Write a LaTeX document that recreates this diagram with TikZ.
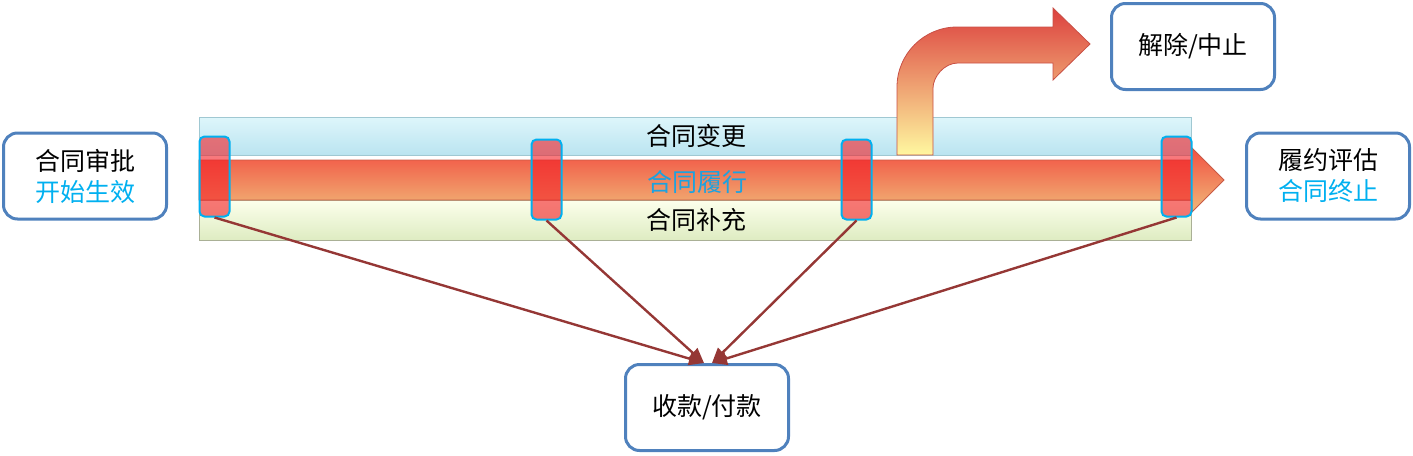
\documentclass[tikz,border=0pt]{standalone}
\usepackage{fontspec}
\setmainfont{Noto Sans CJK SC}
\usetikzlibrary{arrows.meta}
\definecolor{boxblue}{HTML}{4F81BD}
\definecolor{textblue}{HTML}{00B0F0}
\definecolor{linkred}{HTML}{953735}
\tikzset{
  stage/.style={draw=boxblue,line width=1.5pt,rounded corners=7pt,fill=white,
    minimum width=81.5pt,minimum height=43pt,align=center,
    font=\fontsize{12.5}{15.5}\selectfont},
  marker/.style={draw=textblue,line width=1pt,rounded corners=2.5pt,fill={rgb,255:red,243;green,30;blue,37},
    fill opacity=0.6,minimum width=15pt,minimum height=40pt,inner sep=0pt},
  link/.style={draw=linkred,line width=1.2pt,-{Triangle[length=7.5pt,width=6.5pt]}},
  bandtext/.style={font=\fontsize{12.5}{15}\selectfont}
}
\begin{document}
\begin{tikzpicture}[x=0.5pt,y=-0.5pt]
  \useasboundingbox (0,0) rectangle (1413,455);
  %% bands
  \shadedraw[draw={rgb,255:red,160;green,200;blue,210},top color={rgb,255:red,222;green,246;blue,251},bottom color={rgb,255:red,186;green,228;blue,240}]
    (199,117) rectangle (1191,155);
  \shadedraw[draw={rgb,255:red,170;green,176;blue,150},top color={rgb,255:red,252;green,255;blue,236},bottom color={rgb,255:red,222;green,236;blue,194}]
    (199,200) rectangle (1191,240);
  %% main arrow
  \shadedraw[draw={rgb,255:red,200;green,90;blue,70},line width=0.4pt,
    top color={rgb,255:red,242;green,80;blue,66},middle color={rgb,255:red,232;green,118;blue,90},bottom color={rgb,255:red,240;green,184;blue,120}]
    (199,160) -- (1192,160) -- (1192,148) -- (1224,180) -- (1192,212) -- (1192,200) -- (199,200) -- cycle;
  %% bent arrow
  \shadedraw[draw={rgb,255:red,200;green,80;blue,70},line width=0.4pt,
    top color={rgb,255:red,220;green,64;blue,62},middle color={rgb,255:red,242;green,134;blue,96},bottom color={rgb,255:red,255;green,248;blue,160}]
    (897,155) -- (897,87) .. controls (897,54) and (924,27) .. (957,27) -- (1053,27) -- (1053,8)
    -- (1090,44) -- (1053,80) -- (1053,63) -- (958,63) .. controls (944,63) and (933,77) .. (933,88)
    -- (933,155) -- cycle;
  %% labels
  \node[bandtext] (change) at (696,136) {合同变更};
  \node[bandtext,text={rgb,255:red,28;green,162;blue,224}] (perform) at (697,182) {合同履行};
  \node[bandtext] (supply) at (696,220) {合同补充};
  %% markers
  \node[marker] (m1) at (214.5,176.5) {};
  \node[marker] (m2) at (546.5,179.5) {};
  \node[marker] (m3) at (856.5,179.5) {};
  \node[marker] (m4) at (1176.5,176.5) {};
  %% boxes
  \node[stage] (approve) at (85,176) {合同审批\\\textcolor{textblue}{开始生效}};
  \node[stage] (eval) at (1328,176) {履约评估\\\textcolor{textblue}{合同终止}};
  \node[stage] (stop) at (1193,46.5) {解除/中止};
  \node[stage] (pay) at (707,407.5) {收款/付款};
  %% links
  \draw[link] (m1.south) -- ([xshift=-1.5pt]pay.north);
  \draw[link] (m2.south) -- ([xshift=-1.5pt]pay.north);
  \draw[link] (m3.south) -- ([xshift=2.5pt]pay.north);
  \draw[link] (m4.south) -- ([xshift=2.5pt]pay.north);
\end{tikzpicture}
\end{document}
